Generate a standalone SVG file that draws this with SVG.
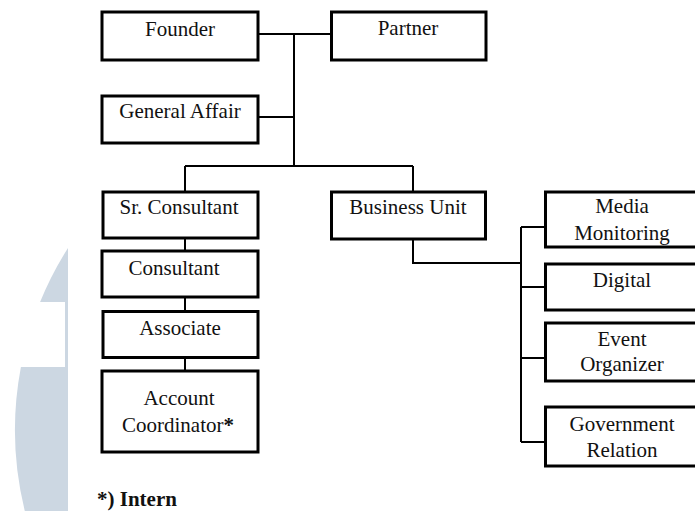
<svg xmlns="http://www.w3.org/2000/svg" width="695" height="511" viewBox="0 0 695 511">
<style>
.box{fill:#fff;stroke:#000;stroke-width:3}
.ln{fill:none;stroke:#000;stroke-width:2}
.t{font-family:'Liberation Serif',serif;font-size:21px;fill:#111;text-anchor:middle}
.note{font-weight:bold;text-anchor:start}
</style>
<rect width="695" height="511" fill="#fff"/>
<path d="M68 248 A339 339 0 0 0 40.1 302 L65 302 L65 367 L20.9 367 A339 339 0 0 0 24.8 511 L68 511 Z" fill="#ccd7e2"/>
<g id="connectors">
<path class="ln" d="M258 34 H330"/>
<path class="ln" d="M294 34 V166"/>
<path class="ln" d="M258 117 H294"/>
<path class="ln" d="M185 166 H413"/>
<path class="ln" d="M185 166 V191"/>
<path class="ln" d="M413 166 V191"/>
<path class="ln" d="M185 238 V250"/>
<path class="ln" d="M185 298 V311"/>
<path class="ln" d="M185 359 V370"/>
<path class="ln" d="M413 240 V263 H521"/>
<path class="ln" d="M521 227 V442"/>
<path class="ln" d="M521 227 H545"/>
<path class="ln" d="M521 287 H545"/>
<path class="ln" d="M521 358 H545"/>
<path class="ln" d="M521 442 H545"/>
</g>
<g id="founder"><rect class="box" x="102" y="12" width="156" height="48"/><text class="t" x="180" y="36">Founder</text></g>
<g id="partner"><rect class="box" x="331.5" y="12" width="154.5" height="48"/><text class="t" x="408" y="35">Partner</text></g>
<g id="general-affair"><rect class="box" x="102" y="96" width="156" height="47"/><text class="t" x="180" y="118">General Affair</text></g>
<g id="sr-consultant"><rect class="box" x="103" y="192" width="155" height="46"/><text class="t" x="179" y="214">Sr. Consultant</text></g>
<g id="business-unit"><rect class="box" x="331.5" y="192" width="154" height="47"/><text class="t" x="408" y="214">Business Unit</text></g>
<g id="consultant"><rect class="box" x="102" y="251" width="156" height="46"/><text class="t" x="174" y="275">Consultant</text></g>
<g id="associate"><rect class="box" x="103" y="311.5" width="155" height="46"/><text class="t" x="180" y="335">Associate</text></g>
<g id="account-coordinator"><rect class="box" x="102" y="371" width="156" height="81"/><text class="t" x="179" y="405">Account</text><text class="t" x="178" y="432">Coordinator<tspan font-weight="bold">*</tspan></text></g>
<g id="media-monitoring"><rect class="box" x="545.5" y="192" width="153" height="55"/><text class="t" x="622" y="213">Media</text><text class="t" x="622" y="240">Monitoring</text></g>
<g id="digital"><rect class="box" x="545.5" y="264" width="153" height="46"/><text class="t" x="622" y="287">Digital</text></g>
<g id="event-organizer"><rect class="box" x="545.5" y="323" width="153" height="58"/><text class="t" x="622" y="346">Event</text><text class="t" x="622" y="371">Organizer</text></g>
<g id="government-relation"><rect class="box" x="545.5" y="407" width="153" height="59"/><text class="t" x="622" y="431">Government</text><text class="t" x="622" y="457">Relation</text></g>
<text class="t note" x="97" y="506">*) Intern</text>
</svg>
